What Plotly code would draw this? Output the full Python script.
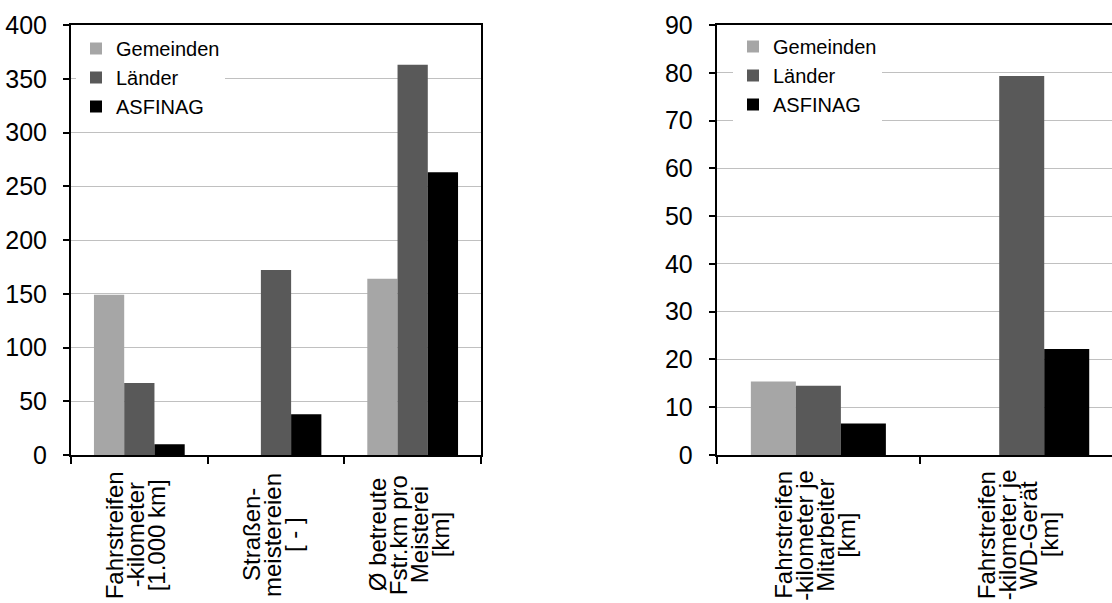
import plotly.graph_objects as go

W, H = 1112, 603

series_names = ["Gemeinden", "Länder", "ASFINAG"]
series_colors = ["#a6a6a6", "#595959", "#000000"]

left_categories = [
    "Fahrstreifen<br>-kilometer<br>[1.000 km]",
    "Straßen-<br>meistereien<br>[ - ]",
    "Ø betreute<br>Fstr.km pro<br>Meisterei<br>[km]",
]
left_gemeinden = [149, None, 164]
left_laender = [67, 172, 363]
left_asfinag = [10, 38, 263]

right_categories = [
    "Fahrstreifen<br>-kilometer je<br>Mitarbeiter<br>[km]",
    "Fahrstreifen<br>-kilometer je<br>WD-Gerät<br>[km]",
]
right_gemeinden = [15.4, None]
right_laender = [14.5, 79.3]
right_asfinag = [6.6, 22.2]

left_ticks = [0, 50, 100, 150, 200, 250, 300, 350, 400]
right_ticks = [0, 10, 20, 30, 40, 50, 60, 70, 80, 90]

FONT = "Liberation Sans, Arial, sans-serif"
TICK_SIZE = 25
LEGEND_SIZE = 20
CAT_SIZE = 24
LINE_PITCH = 21  # px between label lines

fig = go.Figure()
for name, vals, col in zip(series_names, [left_gemeinden, left_laender, left_asfinag], series_colors):
    fig.add_trace(go.Bar(x=left_categories, y=vals, name=name, marker_color=col,
                         marker_line_width=0, xaxis="x", yaxis="y", legend="legend"))
for name, vals, col in zip(series_names, [right_gemeinden, right_laender, right_asfinag], series_colors):
    fig.add_trace(go.Bar(x=right_categories, y=vals, name=name, marker_color=col,
                         marker_line_width=0, xaxis="x2", yaxis="y2", legend="legend2"))

ydom = [(H - 455) / H, (H - 25) / H]

common_x = dict(type="category", showline=True, linecolor="black", linewidth=2, mirror=True,
                ticks="outside", tickson="boundaries", ticklen=7, tickwidth=1.5, tickcolor="black",
                showticklabels=False, showgrid=False, zeroline=False, automargin=False)
common_y = dict(showline=True, linecolor="black", linewidth=2, ticks="outside", ticklen=6,
                tickwidth=1.5, tickcolor="black", gridcolor="#c0c0c0", gridwidth=1, zeroline=False,
                tickfont=dict(size=TICK_SIZE, color="black", family=FONT), ticklabelstandoff=11,
                domain=ydom, automargin=False)

fig.update_layout(
    width=W, height=H, margin=dict(l=0, r=0, t=0, b=0, autoexpand=False),
    paper_bgcolor="white", plot_bgcolor="white",
    font=dict(family=FONT, color="black"),
    barmode="group", bargap=0.336, bargroupgap=0,
    xaxis=dict(domain=[71 / W, 481 / W], anchor="y", range=[-0.5, 2.5], **common_x),
    yaxis=dict(anchor="x", range=[0, 400], tickvals=left_ticks, mirror=True, **common_y),
    xaxis2=dict(domain=[716.7 / W, 1.0], anchor="y2", range=[-0.5, 1.444], **common_x),
    yaxis2=dict(anchor="x2", range=[0, 90], tickvals=right_ticks, mirror=False, **common_y),
    legend=dict(x=76 / W, y=(H - 29) / H, xanchor="left", yanchor="top", bgcolor="white",
                font=dict(size=LEGEND_SIZE, family=FONT, color="black"), borderwidth=0),
    legend2=dict(x=733 / W, y=(H - 27) / H, xanchor="left", yanchor="top", bgcolor="white",
                 font=dict(size=LEGEND_SIZE, family=FONT, color="black"), borderwidth=0),
)

annotations = []
label_center_y = (H - 535) / H
for cats, xr in [(left_categories, "x"), (right_categories, "x2")]:
    for c in cats:
        lines = c.split("<br>")
        n = len(lines)
        for i, line in enumerate(lines):
            annotations.append(dict(x=c, xref=xr, y=label_center_y, yref="paper", text=line,
                                    textangle=-90, xanchor="center", yanchor="middle",
                                    xshift=(i - (n - 1) / 2) * LINE_PITCH - 4,
                                    showarrow=False,
                                    font=dict(size=CAT_SIZE, family=FONT, color="black")))
fig.update_layout(annotations=annotations)

fig.write_html("out.html")
